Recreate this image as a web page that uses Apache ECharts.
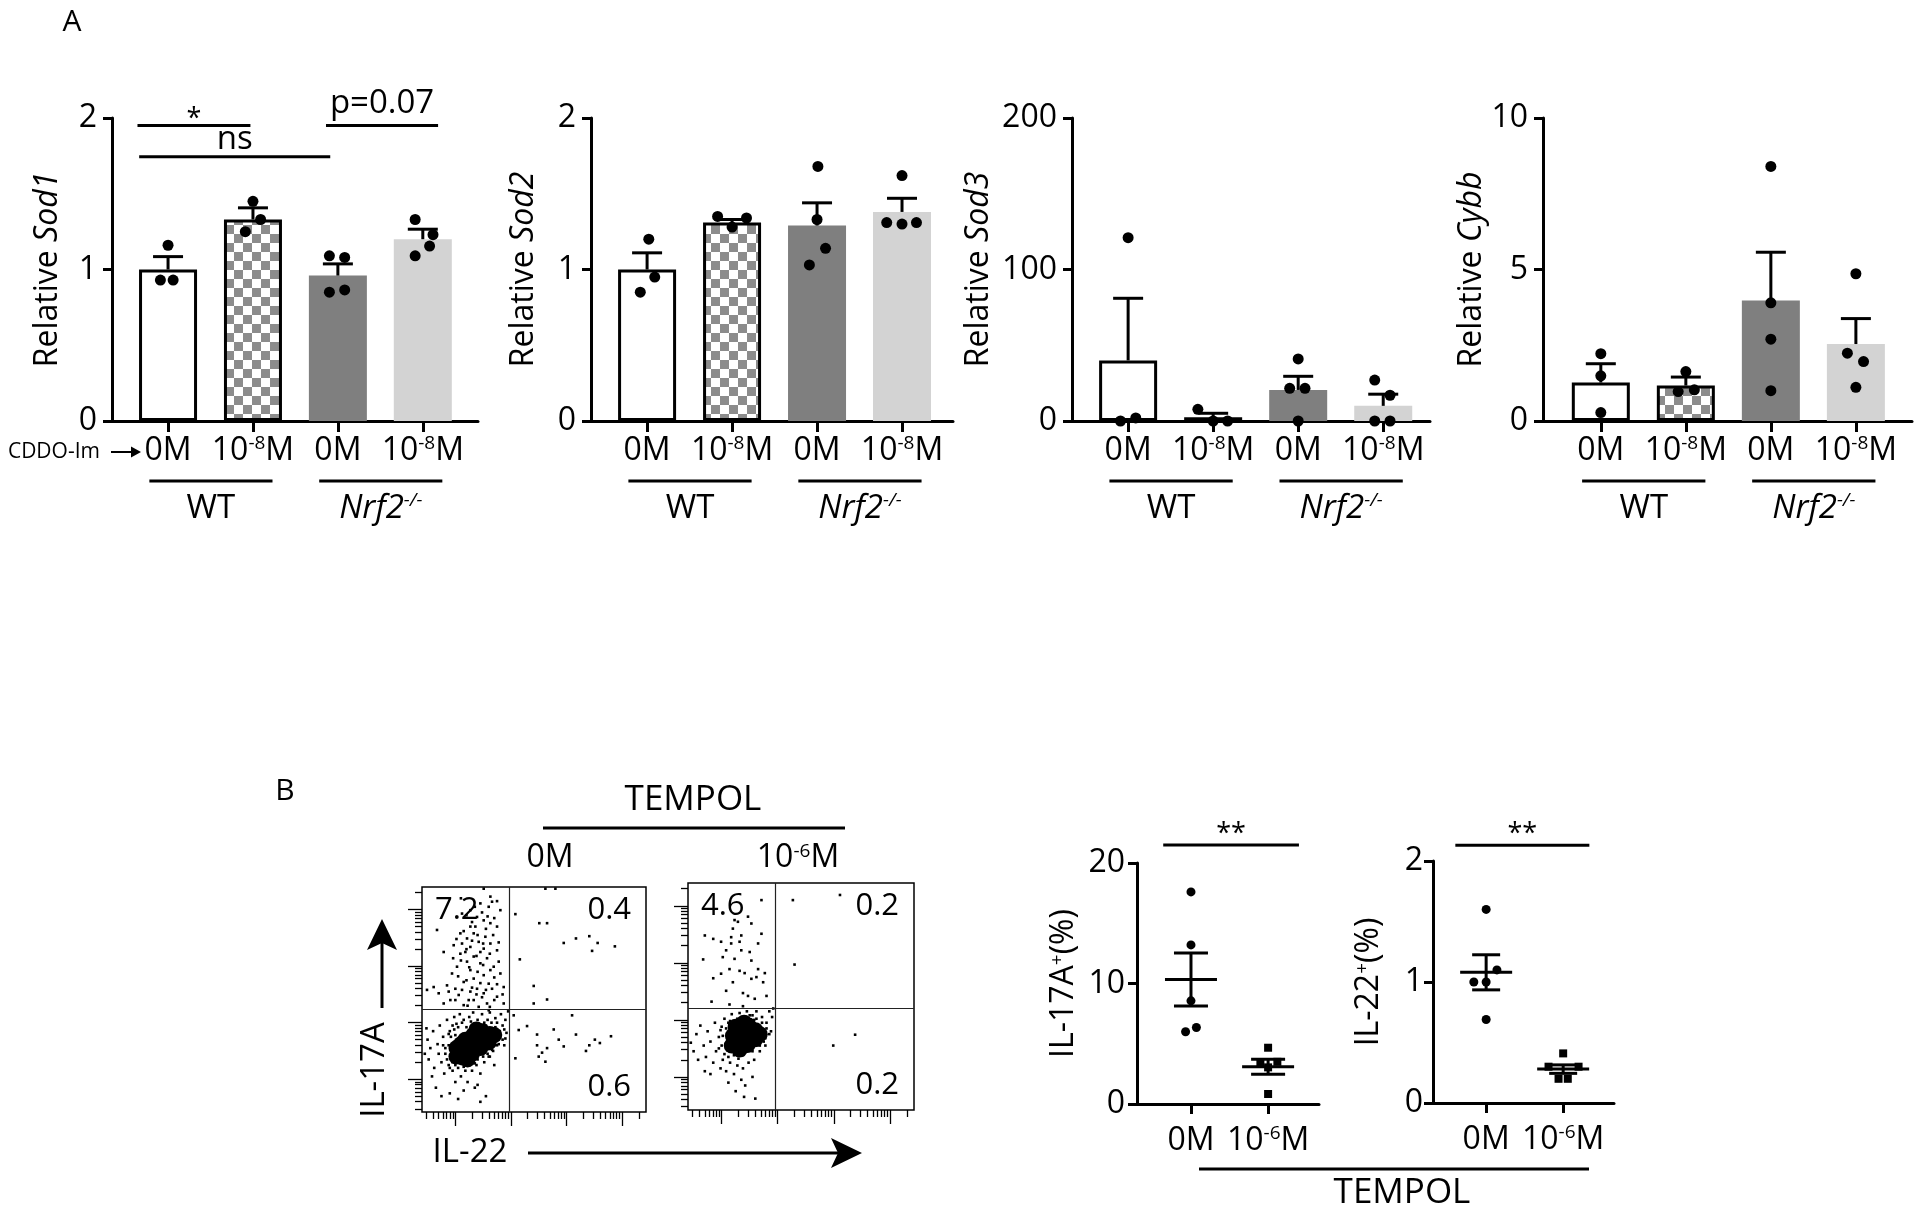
<!DOCTYPE html>
<html><head><meta charset="utf-8">
<script src="https://cdn.jsdelivr.net/npm/echarts@6/dist/echarts.min.js"></script>
<style>html,body{margin:0;padding:0;background:#fff}#c{width:1920px;height:1216px}</style>
</head><body><div id="c"></div>
<script>
// ================= DATA =================
// Panel A: categories (CDDO-Im dose) and genotype groups
const catLabelsA = ['0M', '10{sup|-8}M', '0M', '10{sup|-8}M'];
const groupLabelsA = ['WT', '{it|Nrf2}{isup|-/-}'];
const groupSpansA = [[0.78, 2.23], [2.78, 4.23]];

const sod1Mean = [1.0, 1.33, 0.96, 1.20];
const sod1Sem  = [0.085, 0.077, 0.077, 0.066];
const sod1Dots = [[1.0,1.16],[0.91,0.93],[1.06,0.93],[2.0,1.45],[2.09,1.33],[1.91,1.25],[2.9,1.09],[3.08,1.08],[2.9,0.85],[3.08,0.865],[3.91,1.33],[4.12,1.23],[4.08,1.155],[3.91,1.09]];
const sod1SigSpans = [[0.64, 1.97, 1.95], [0.66, 2.91, 1.745], [2.86, 4.18, 1.95]];
const sod1SigLabels = ['*', 'ns', 'p=0.07'];

const sod2Mean = [1.0, 1.31, 1.29, 1.38];
const sod2Sem  = [0.11, 0.02, 0.15, 0.09];
const sod2Dots = [[1.02,1.2],[1.09,0.95],[0.92,0.85],[1.83,1.35],[2.17,1.34],[2.0,1.28],[3.01,1.68],[3.0,1.33],[3.1,1.14],[2.91,1.03],[4.0,1.62],[3.82,1.31],[4.0,1.30],[4.17,1.31]];

const sod3Mean = [40, 2.4, 20.5, 10];
const sod3Sem  = [41, 2.7, 9, 7.7];
const sod3Dots = [[1.0,121],[0.91,0],[1.09,2],[1.82,7.7],[2.0,0],[2.17,0],[3.0,41],[2.9,21.6],[3.08,21.6],[3.0,0],[3.9,27],[4.08,17],[3.9,0],[4.08,0]];

const cybbMean = [1.27, 1.17, 3.98, 2.54];
const cybbSem  = [0.62, 0.28, 1.59, 0.84];
const cybbDots = [[1.0,2.22],[1.0,1.49],[1.0,0.28],[2.0,1.63],[1.91,0.97],[2.1,1.03],[3.0,8.4],[3.0,3.9],[3.0,2.7],[3.0,1.0],[4.0,4.86],[3.9,2.24],[4.09,1.96],[4.0,1.11]];

// Panel B: flow cytometry (log10 fluorescence, x = IL-22, y = IL-17A)
const flow1Gate = [1.97, 2.24];
const flow2Gate = [1.95, 2.20];
const flow1Quad = ['7.2', '0.4', '0.6'];
const flow2Quad = ['4.6', '0.2', '0.2'];
const flow1Pts = [
 [1.51,4.37],[1.63,4.23],[1.66,4.14],[1.45,4.11],[1.60,4.05],[1.27,3.99],[1.81,3.99],[1.12,3.93],[1.39,3.87],[1.51,3.81],
 [1.63,3.76],[1.27,3.70],[1.75,3.70],[0.67,3.64],[1.09,3.58],[1.33,3.58],[1.54,3.52],[1.21,3.49],[1.42,3.43],[1.63,3.40],
 [0.97,3.37],[1.27,3.34],[1.51,3.31],[1.75,3.28],[0.79,3.25],[1.09,3.22],[1.33,3.17],[1.57,3.14],[1.21,3.08],[1.45,3.05],
 [1.03,2.99],[1.69,2.99],[1.27,2.93],[0.94,2.87],[1.51,2.84],[1.33,2.78],[1.15,2.72],[1.60,2.69],[0.85,2.66],[1.39,2.60],
 [0.61,2.63],[1.27,2.55],[1.51,2.52],[1.06,2.49],[1.75,2.46],[0.91,2.40],[1.33,2.40],[1.57,2.34],[1.15,2.31],[1.87,2.34],
 [0.79,2.34],[1.42,2.28],[0.49,2.58],[0.70,2.52],[1.00,2.60],[1.24,2.40],[1.66,2.60],[1.81,2.87],[1.12,3.40],[1.36,3.70],
 [0.96,3.14],[1.18,3.25],[1.45,3.25],[1.63,2.93],[1.87,2.63],
 [1.20,3.90],[1.48,3.95],[1.70,3.85],[1.30,3.78],[1.55,3.66],[1.15,3.62],[1.40,3.55],[1.68,3.55],[1.02,3.48],[1.30,3.45],
 [1.50,3.40],[1.78,3.42],[1.20,3.30],[1.38,3.18],[1.62,3.22],[1.10,3.10],[1.50,3.02],[1.78,3.08],[1.25,2.98],[1.40,2.90],
 [1.70,2.80],[1.05,2.82],[1.20,2.75],[1.45,2.70],[1.75,2.68],[1.30,2.62],[1.55,2.58],[1.12,2.58],[1.48,2.45],[1.70,2.40],
 [1.00,2.40],[1.22,2.30],[1.62,2.28],[1.38,2.50],[1.85,2.50],[0.88,2.55],[1.58,3.88],[1.35,4.05],[1.75,4.15],[1.10,4.20],
 [2.08,3.92],[2.51,3.76],[2.65,3.76],[2.95,3.41],[3.17,3.49],[3.41,3.53],[3.46,3.27],[3.56,3.41],[3.87,3.35],[2.16,3.12],
 [2.41,2.65],[2.65,2.41],[2.41,2.34],[2.62,4.37],[2.80,4.37],
 [2.05,2.13],[2.29,1.94],[2.47,1.79],[2.77,1.88],[3.10,2.13],[3.17,1.79],[3.51,1.70],[3.80,1.76],[2.86,1.70],[2.95,1.58],
 [2.65,1.55],[2.56,1.47],[2.50,1.40],[2.62,1.31],[2.08,1.37],[3.41,1.60],[3.60,1.64],[3.35,1.50],[2.14,1.87],[2.47,1.60],
 [0.50,1.70],[0.55,1.55],[0.52,1.35],[0.60,1.85],[0.62,1.20],[0.68,1.62],[0.70,1.45],[0.72,1.95],[0.75,1.30],[0.78,1.75],
 [0.80,1.10],[0.82,1.55],[0.85,2.05],[0.88,1.25],[0.90,1.85],[0.95,1.15],[0.98,2.10],[1.00,0.95],[1.02,1.98],[1.05,1.20],
 [1.08,2.15],[1.10,1.05],[1.15,2.05],[1.18,1.15],[1.22,0.95],[1.25,2.10],[1.30,1.15],[1.32,2.18],[1.38,1.25],[1.40,2.05],
 [1.45,1.10],[1.48,2.15],[1.52,1.30],[1.58,2.05],[1.60,1.40],[1.62,2.18],[1.68,1.50],[1.72,2.08],[1.75,1.60],[1.80,1.75],
 [1.82,2.15],[1.85,1.95],[1.88,1.60],[1.90,2.05],[1.92,1.82],[0.65,0.85],[0.90,0.75],[1.15,0.80],[1.40,0.90],[1.55,0.70],
 [0.75,0.70],[1.05,0.65],[0.58,1.05],[1.70,1.25],[1.35,0.85],[1.45,0.60],[0.45,1.45],[0.48,1.90],[1.95,2.20],[1.60,2.22],
 [0.85,1.35],[0.88,1.60],[0.92,1.75],[0.95,1.30],[0.98,1.88],[1.05,1.92],[1.12,2.00],[1.20,1.92],[1.25,1.25],[1.35,1.28],
 [1.42,1.95],[1.52,2.00],[1.58,1.45],[1.66,1.52],[1.72,1.92],[1.78,1.62],[1.80,1.85],[1.85,1.70],[0.82,1.45],[0.90,1.20],
 [1.00,1.25],[1.08,1.28],[1.15,1.22],[1.55,1.95],[1.65,2.00],[1.75,2.00],[1.88,1.88],[0.95,1.95],[1.28,2.02],[1.40,1.35],
 [1.50,1.40],[0.78,1.60],[0.88,1.80],[1.62,1.40],[1.90,1.72],[1.00,1.78]
];
const flow1Core = [[1.02,1.40],[1.02,1.55],[1.15,1.38],[1.15,1.55],[1.18,1.70],[1.30,1.45],[1.30,1.62],[1.32,1.78],[1.45,1.55],[1.45,1.72],[1.48,1.85],[1.60,1.65],[1.62,1.80],[1.70,1.78],[1.10,1.62],[1.38,1.88],[1.22,1.35]];
const flow2Pts = [
 [1.71,4.10],[1.47,3.81],[1.53,3.69],[1.29,3.72],[1.20,3.60],[0.70,3.48],[0.85,3.42],[1.17,3.45],[1.35,3.48],[1.71,3.51],
 [0.99,3.37],[1.17,3.34],[1.32,3.37],[1.65,3.34],[1.08,3.22],[1.35,3.22],[1.50,3.19],[0.67,3.06],[1.02,3.10],[1.23,3.07],
 [1.53,3.04],[1.14,2.89],[1.32,2.86],[1.65,2.89],[1.41,2.82],[1.77,2.82],[0.85,2.73],[0.99,2.81],[1.53,2.72],[1.20,2.66],
 [1.74,2.66],[1.08,2.51],[1.38,2.47],[1.47,2.42],[1.59,2.37],[1.80,2.42],[0.82,2.32],[1.14,2.27],[1.38,2.24],[1.23,3.75],
 [1.62,2.75],
 [2.27,4.10],[3.11,4.19],[2.30,2.97],
 [3.38,1.74],[2.99,1.55],
 [0.45,1.60],[0.50,1.45],[0.55,1.75],[0.58,1.30],[0.62,1.90],[0.68,1.55],[0.72,1.35],[0.75,1.80],[0.80,1.62],[0.85,1.25],
 [0.88,1.95],[0.90,1.45],[0.95,1.70],[0.98,1.15],[1.00,1.88],[1.02,1.30],[1.05,2.02],[1.08,1.10],[1.10,1.50],[1.12,1.95],
 [1.15,1.25],[1.18,2.10],[1.22,1.05],[1.28,1.20],[1.32,2.12],[1.38,1.15],[1.45,2.15],[1.48,1.25],[1.55,2.08],[1.58,1.30],
 [1.62,2.15],[1.68,1.45],[1.72,2.05],[1.78,1.55],[1.80,1.95],[1.85,2.15],[1.88,1.80],[1.92,2.20],[1.90,2.05],[0.80,1.05],
 [1.12,0.90],[1.42,0.85],[1.40,0.65],[1.55,1.00],[0.70,1.10],[1.25,0.75],[1.60,0.62],[1.35,0.95],
 [1.00,1.55],[1.02,1.72],[1.05,1.40],[1.08,1.85],[1.12,1.35],[1.15,1.98],[1.22,1.38],[1.28,2.02],[1.38,1.38],[1.42,2.05],
 [1.55,1.45],[1.58,2.00],[1.68,1.55],[1.72,1.95],[1.78,1.68],[1.80,1.85],[1.75,1.62],[1.62,2.02],[1.30,1.32],[1.10,1.62],
 [0.95,1.50],[0.98,1.82],[1.85,1.75],[1.50,2.08]
];
const flow2Core = [[1.18,1.55],[1.20,1.72],[1.32,1.48],[1.32,1.65],[1.34,1.82],[1.46,1.56],[1.46,1.74],[1.48,1.90],[1.60,1.66],[1.60,1.82],[1.68,1.75],[1.40,1.95],[1.25,1.88]];

// Panel B: summary scatter plots
const catLabelsB = ['0M', '10{sup|-6}M'];
const il17Ctrl = [[1,17.6],[1,13.2],[1,8.56],[0.93,6.0],[1.07,6.35]];
const il17Tempol = [[2,4.67],[1.9,3.42],[2.12,3.5],[2,3.04],[2,0.83]];
const il17MeanSem = [[1,10.33,2.2],[2,3.09,0.63]];
const il17Sig = [[0.64, 2.40, 21.5]];
const il22Ctrl = [[1,1.60],[1.14,1.10],[0.84,1.0],[1,1.0],[1,0.69]];
const il22Tempol = [[2,0.41],[1.81,0.30],[2.2,0.30],[1.94,0.20],[2.06,0.20]];
const il22MeanSem = [[1,1.08,0.145],[2,0.28,0.035]];
const il22Sig = [[0.60, 2.34, 2.13]];

// ================= STYLE / LAYOUT =================
const FONT = 'Open Sans';
const FW = 500;
const BLACK = '#000';
const pat = document.createElement('canvas');
pat.width = 18; pat.height = 18;
(function(){const g = pat.getContext('2d'); g.fillStyle = '#fff'; g.fillRect(0,0,18,18); g.fillStyle = '#8c8c8c'; g.fillRect(0,0,9,9); g.fillRect(9,9,9,9);})();
const barStyles = [
  {color: '#fff', borderColor: BLACK, borderWidth: 3},
  {color: {image: pat, repeat: 'repeat'}, borderColor: BLACK, borderWidth: 3},
  {color: '#7f7f7f', borderWidth: 0},
  {color: '#d3d3d3', borderWidth: 0}
];
const supRich = {
  sup: {fontSize: 19, lineHeight: 24, verticalAlign: 'top', fontFamily: FONT, fontWeight: FW, color: BLACK},
  it: {fontSize: 33, lineHeight: 36, fontStyle: 'italic', fontFamily: FONT, fontWeight: FW, color: BLACK},
  isup: {fontSize: 19, lineHeight: 24, verticalAlign: 'top', fontStyle: 'italic', fontFamily: FONT, fontWeight: FW, color: BLACK}
};

const panelsA = [
  {gene: 'Sod1', mean: sod1Mean, sem: sod1Sem, dots: sod1Dots, max: 2, interval: 1, grid: {left: 112, top: 118, width: 366, height: 303}, xr: [0.34, 4.65], gap: 48},
  {gene: 'Sod2', mean: sod2Mean, sem: sod2Sem, dots: sod2Dots, max: 2, interval: 1, grid: {left: 591, top: 118, width: 362, height: 303}, xr: [0.34, 4.6], gap: 51},
  {gene: 'Sod3', mean: sod3Mean, sem: sod3Sem, dots: sod3Dots, max: 200, interval: 100, grid: {left: 1072, top: 118, width: 358, height: 303}, xr: [0.34, 4.55], gap: 77},
  {gene: 'Cybb', mean: cybbMean, sem: cybbSem, dots: cybbDots, max: 10, interval: 5, grid: {left: 1543, top: 118, width: 369, height: 303}, xr: [0.32, 4.66], gap: 51}
];
const flowGrids = [
  {left: 422, top: 887, width: 224, height: 225},
  {left: 688, top: 883, width: 226, height: 227}
];
const FX = [0.40, 4.43], FY = [0.42, 4.40];
const scGrids = [
  {left: 1137, top: 863, width: 182, height: 241},
  {left: 1433, top: 861, width: 181, height: 242}
];

const grid = [], xAxis = [], yAxis = [], series = [];

function errRender(params, api) {
  const x = api.value(0), m = api.value(1), s = api.value(2);
  const b = api.coord([x, m]), t = api.coord([x, m + s]);
  const st = {stroke: BLACK, lineWidth: 3};
  return {type: 'group', children: [
    {type: 'line', shape: {x1: b[0], y1: b[1], x2: t[0], y2: t[1]}, style: st},
    {type: 'line', shape: {x1: t[0] - 15, y1: t[1], x2: t[0] + 15, y2: t[1]}, style: st}
  ]};
}
function groupRender(params, api) {
  const i = params.dataIndex;
  const p1 = api.coord([api.value(0), 0]), p2 = api.coord([api.value(1), 0]);
  const st = {stroke: BLACK, lineWidth: 3};
  return {type: 'group', children: [
    {type: 'line', shape: {x1: p1[0], y1: p1[1] + 60, x2: p2[0], y2: p2[1] + 60}, style: st},
    {type: 'text', x: (p1[0] + p2[0]) / 2, y: p1[1] + 88, style: {text: groupLabelsA[i], fontSize: 33, fontFamily: FONT, fontWeight: FW, fill: BLACK, align: 'center', verticalAlign: 'middle', rich: supRich}}
  ]};
}
function sigRenderFactory(labels, dys, fs) {
  return function(params, api) {
    const i = params.dataIndex;
    const p1 = api.coord([api.value(0), api.value(2)]), p2 = api.coord([api.value(1), api.value(2)]);
    return {type: 'group', children: [
      {type: 'line', shape: {x1: p1[0], y1: p1[1], x2: p2[0], y2: p2[1]}, style: {stroke: BLACK, lineWidth: 3}},
      {type: 'text', x: (p1[0] + p2[0]) / 2, y: p1[1] + dys[i], style: {text: labels[i], fontSize: fs[i], fontFamily: FONT, fontWeight: FW, fill: BLACK, align: 'center', verticalAlign: 'middle'}}
    ]};
  };
}
function meanSemFactory(capHalf, meanHalf) {
  return function(params, api) {
    const x = api.value(0), m = api.value(1), s = api.value(2);
    const pm = api.coord([x, m]), pt = api.coord([x, m + s]), pb = api.coord([x, m - s]);
    const st = {stroke: BLACK, lineWidth: 3};
    return {type: 'group', children: [
      {type: 'line', shape: {x1: pm[0] - meanHalf, y1: pm[1], x2: pm[0] + meanHalf, y2: pm[1]}, style: st},
      {type: 'line', shape: {x1: pt[0], y1: pt[1], x2: pb[0], y2: pb[1]}, style: st},
      {type: 'line', shape: {x1: pt[0] - capHalf, y1: pt[1], x2: pt[0] + capHalf, y2: pt[1]}, style: st},
      {type: 'line', shape: {x1: pb[0] - capHalf, y1: pb[1], x2: pb[0] + capHalf, y2: pb[1]}, style: st}
    ]};
  };
}

const axisLineSt = {show: true, onZero: false, lineStyle: {color: BLACK, width: 3}};
const dotStyle = {color: BLACK, opacity: 1};

// ---------- Panel A ----------
panelsA.forEach((p, k) => {
  grid.push(p.grid);
  xAxis.push({
    gridIndex: k, type: 'value', min: p.xr[0], max: p.xr[1], position: 'bottom',
    axisLine: axisLineSt, splitLine: {show: false},
    axisTick: {show: true, customValues: [1, 2, 3, 4], length: 11, lineStyle: {color: BLACK, width: 3}},
    axisLabel: {show: true, customValues: [1, 2, 3, 4], formatter: v => catLabelsA[Math.round(v) - 1], fontSize: 32, fontWeight: FW, lineHeight: 34, fontFamily: FONT, color: BLACK, margin: 13, rich: supRich}
  });
  yAxis.push({
    gridIndex: k, type: 'value', min: 0, max: p.max, interval: p.interval,
    axisLine: axisLineSt, splitLine: {show: false},
    axisTick: {show: true, length: 9, lineStyle: {color: BLACK, width: 3}},
    axisLabel: {fontSize: 32, fontWeight: FW, fontFamily: FONT, color: BLACK, margin: 15},
    name: 'Relative {i|' + p.gene + '}', nameLocation: 'middle', nameGap: p.gap,
    nameTextStyle: {fontSize: 32, fontWeight: FW, fontFamily: FONT, color: BLACK, rich: {i: {fontSize: 32, fontWeight: FW, fontFamily: FONT, fontStyle: 'italic', color: BLACK}}}
  });
  series.push({
    type: 'bar', xAxisIndex: k, yAxisIndex: k, barWidth: 58, z: 2,
    data: p.mean.map((m, i) => ({value: [i + 1, m], itemStyle: barStyles[i]}))
  });
  series.push({
    type: 'custom', xAxisIndex: k, yAxisIndex: k, z: 3, renderItem: errRender,
    data: p.mean.map((m, i) => [i + 1, m, p.sem[i]])
  });
  series.push({
    type: 'scatter', xAxisIndex: k, yAxisIndex: k, z: 4, symbol: 'circle', symbolSize: 11,
    itemStyle: dotStyle, data: p.dots, clip: false
  });
  series.push({
    type: 'custom', xAxisIndex: k, yAxisIndex: k, z: 3, renderItem: groupRender, clip: false,
    data: groupSpansA.map(s => [s[0], s[1]])
  });
});
series.push({
  type: 'custom', xAxisIndex: 0, yAxisIndex: 0, z: 5, clip: false,
  renderItem: sigRenderFactory(sod1SigLabels, [-6, -17, -22], [27, 33, 33]),
  data: sod1SigSpans
});

// ---------- Panel B flow plots ----------
const minorTicks = [];
for (let n = 0; n <= 4; n++) for (let m = 2; m <= 9; m++) { const v = n + Math.log10(m); if (v > FX[0] && v < FX[1]) minorTicks.push(v); }
const flowSets = [
  {pts: flow1Pts, core: flow1Core, gate: flow1Gate},
  {pts: flow2Pts, core: flow2Core, gate: flow2Gate}
];
flowSets.forEach((f, j) => {
  const gi = grid.length;
  grid.push(Object.assign({show: true, borderColor: BLACK, borderWidth: 1.5, backgroundColor: 'transparent'}, flowGrids[j]));
  const xi = xAxis.length, yi = yAxis.length;
  const tickSt = {color: BLACK, width: 1.3};
  xAxis.push({gridIndex: gi, type: 'value', min: FX[0], max: FX[1], position: 'bottom', axisLine: {show: false}, splitLine: {show: false}, axisLabel: {show: false}, axisTick: {show: true, customValues: [1, 2, 3, 4], length: 14, lineStyle: tickSt}});
  xAxis.push({gridIndex: gi, type: 'value', min: FX[0], max: FX[1], position: 'bottom', axisLine: {show: false}, splitLine: {show: false}, axisLabel: {show: false}, axisTick: {show: true, customValues: minorTicks, length: 7, lineStyle: tickSt}});
  yAxis.push({gridIndex: gi, type: 'value', min: FY[0], max: FY[1], position: 'left', axisLine: {show: false}, splitLine: {show: false}, axisLabel: {show: false}, axisTick: {show: true, customValues: [1, 2, 3, 4], length: 14, lineStyle: tickSt}});
  yAxis.push({gridIndex: gi, type: 'value', min: FY[0], max: FY[1], position: 'left', axisLine: {show: false}, splitLine: {show: false}, axisLabel: {show: false}, axisTick: {show: true, customValues: minorTicks.filter(v => v > FY[0] && v < FY[1]), length: 7, lineStyle: tickSt}});
  series.push({
    type: 'scatter', xAxisIndex: xi, yAxisIndex: yi, symbol: 'rect', symbolSize: 2.6,
    itemStyle: dotStyle, data: f.pts,
    markLine: {silent: true, symbol: 'none', label: {show: false}, lineStyle: {color: '#222', width: 1.2, type: 'solid'},
      data: [{xAxis: f.gate[0]}, {yAxis: f.gate[1]}]}
  });
  series.push({
    type: 'scatter', xAxisIndex: xi, yAxisIndex: yi, symbol: 'circle', symbolSize: 16,
    itemStyle: dotStyle, data: f.core
  });
});

// ---------- Panel B summary scatter ----------
const scSets = [
  {ctrl: il17Ctrl, tempol: il17Tempol, ms: il17MeanSem, sig: il17Sig, max: 20, interval: 10, name: 'IL-17A{sup|+}(%)', gap: 57, cap: 17, xr: [0.30, 2.66], lblMargin: 12},
  {ctrl: il22Ctrl, tempol: il22Tempol, ms: il22MeanSem, sig: il22Sig, max: 2, interval: 1, name: 'IL-22{sup|+}(%)', gap: 48, cap: 14, xr: [0.31, 2.66], lblMargin: 10}
];
scSets.forEach((s, j) => {
  const gi = grid.length;
  grid.push(scGrids[j]);
  const xi = xAxis.length, yi = yAxis.length;
  xAxis.push({
    gridIndex: gi, type: 'value', min: s.xr[0], max: s.xr[1], position: 'bottom',
    axisLine: axisLineSt, splitLine: {show: false},
    axisTick: {show: true, customValues: [1, 2], length: 10, lineStyle: {color: BLACK, width: 3}},
    axisLabel: {show: true, customValues: [1, 2], formatter: v => catLabelsB[Math.round(v) - 1], fontSize: 32, fontWeight: FW, lineHeight: 34, fontFamily: FONT, color: BLACK, margin: 20, rich: supRich}
  });
  yAxis.push({
    gridIndex: gi, type: 'value', min: 0, max: s.max, interval: s.interval,
    axisLine: axisLineSt, splitLine: {show: false},
    axisTick: {show: true, length: 9, lineStyle: {color: BLACK, width: 3}},
    axisLabel: {fontSize: 32, fontWeight: FW, fontFamily: FONT, color: BLACK, margin: s.lblMargin},
    name: s.name, nameLocation: 'middle', nameGap: s.gap,
    nameTextStyle: {fontSize: 32, fontWeight: FW, fontFamily: FONT, color: BLACK, rich: {sup: {fontSize: 19, fontWeight: FW, lineHeight: 24, verticalAlign: 'top', fontFamily: FONT, color: BLACK}}}
  });
  series.push({type: 'scatter', xAxisIndex: xi, yAxisIndex: yi, symbol: 'circle', symbolSize: 9, itemStyle: dotStyle, data: s.ctrl, z: 3});
  series.push({type: 'scatter', xAxisIndex: xi, yAxisIndex: yi, symbol: 'rect', symbolSize: 8, itemStyle: dotStyle, data: s.tempol, z: 3});
  series.push({type: 'custom', xAxisIndex: xi, yAxisIndex: yi, renderItem: meanSemFactory(s.cap, 26), data: s.ms, z: 4, clip: false});
  series.push({type: 'custom', xAxisIndex: xi, yAxisIndex: yi, renderItem: sigRenderFactory(['**'], [-11], [27]), data: s.sig, z: 4, clip: false});
});

// ---------- annotations ----------
const txt = (text, x, y, fs, extra) => Object.assign({type: 'text', x, y, style: {text, fontSize: fs, fontWeight: FW, fontFamily: FONT, fill: BLACK, align: 'center', verticalAlign: 'middle', rich: supRich}}, extra || {});
const ln = (x1, y1, x2, y2, w) => ({type: 'line', shape: {x1, y1, x2, y2}, style: {stroke: BLACK, lineWidth: w}});
const graphic = [
  txt('A', 72, 22, 30),
  txt('CDDO-Im', 100, 452, 21),
  ln(111, 452, 134, 452, 2),
  {type: 'polygon', shape: {points: [[141, 452], [131, 446.5], [131, 457.5]]}, style: {fill: BLACK}},
  txt('B', 285, 791, 30),
  txt('TEMPOL', 693, 800, 35),
  ln(543, 828, 845, 828, 3),
  txt('0M', 550, 858, 32),
  txt('10{sup|-6}M', 798, 858, 32),
  txt('IL-17A', 375, 1070, 33, {rotation: Math.PI / 2}),
  ln(382, 1008, 382, 935, 3),
  {type: 'polygon', shape: {points: [[382, 919], [367, 950], [382, 943], [397, 950]]}, style: {fill: BLACK}},
  txt('IL-22', 470, 1153, 33),
  ln(528, 1153, 845, 1153, 3),
  {type: 'polygon', shape: {points: [[862, 1153], [831, 1138], [838, 1153], [831, 1168]]}, style: {fill: BLACK}},
  ln(1199, 1169, 1589, 1169, 3),
  txt('TEMPOL', 1402, 1193, 35)
];
graphic[1].style.align = 'right';
// quadrant percentages placed at flow-plot frame corners
[flow1Quad, flow2Quad].forEach((q, j) => {
  const g = flowGrids[j];
  const a = txt(q[0], g.left + 13, g.top + 23, 31); a.style.align = 'left'; graphic.push(a);
  const b = txt(q[1], g.left + g.width - 15, g.top + 23, 31); b.style.align = 'right'; graphic.push(b);
  const c = txt(q[2], g.left + g.width - 15, g.top + g.height - 25, 31); c.style.align = 'right'; graphic.push(c);
});

const chart = echarts.init(document.getElementById('c'), null, {renderer: 'canvas'});
chart.setOption({
  animation: false,
  backgroundColor: '#fff',
  textStyle: {fontFamily: FONT},
  grid, xAxis, yAxis, series, graphic
});
</script></body></html>
